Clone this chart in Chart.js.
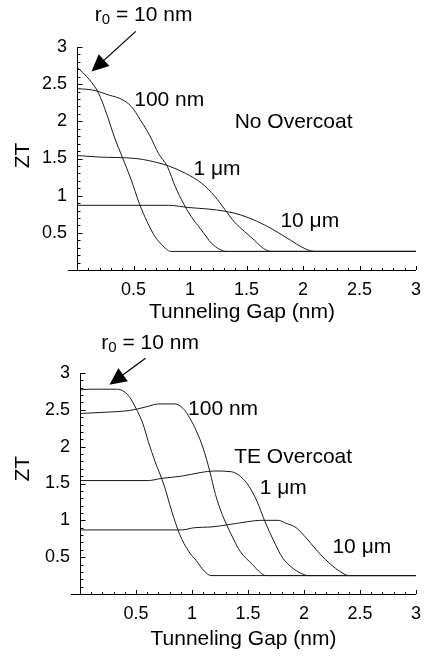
<!DOCTYPE html>
<html>
<head>
<meta charset="utf-8">
<script src="https://cdn.jsdelivr.net/npm/chart.js@4"></script>
<style>
  html, body { margin: 0; padding: 0; background: #fff; }
  #wrap { position: relative; width: 430px; height: 658px; }
  canvas { position: absolute; left: 0; }
  #topChart { top: 0; }
  #bottomChart { top: 325px; }
</style>
</head>
<body>
<div id="wrap">
  <canvas id="topChart" width="430" height="325"></canvas>
  <canvas id="bottomChart" width="430" height="333"></canvas>
</div>
<script>
// tick labels
const gapTicks = [0.5, 1, 1.5, 2, 2.5, 3]
const ztTicks = [0.5, 1, 1.5, 2, 2.5, 3]

// No overcoat (top panel)
const noR10Gap = [0, 0.11, 0.19, 0.26, 0.33, 0.40, 0.48, 0.55, 0.62, 0.69, 0.75, 0.83, 3]
const noR10ZT = [2.73, 2.56, 2.38, 2.11, 1.79, 1.52, 1.21, 0.90, 0.65, 0.45, 0.34, 0.25, 0.25]
const no100Gap = [0, 0.14, 0.29, 0.39, 0.48, 0.56, 0.65, 0.72, 0.80, 0.87, 0.94, 1.01, 1.10, 1.19, 1.26, 1.32, 3]
const no100ZT = [2.44, 2.42, 2.35, 2.30, 2.20, 2.02, 1.79, 1.57, 1.39, 1.12, 0.90, 0.72, 0.54, 0.36, 0.28, 0.25, 0.25]
const no1umGap = [0, 0.19, 0.52, 0.64, 0.81, 0.96, 1.10, 1.22, 1.31, 1.39, 1.48, 1.57, 1.65, 1.72, 3]
const no1umZT = [1.54, 1.52, 1.50, 1.47, 1.40, 1.30, 1.17, 0.99, 0.81, 0.65, 0.52, 0.40, 0.29, 0.25, 0.25]
const no10umGap = [0, 0.81, 0.99, 1.16, 1.31, 1.45, 1.60, 1.74, 1.89, 2.00, 2.10, 3]
const no10umZT = [0.87, 0.87, 0.84, 0.82, 0.79, 0.74, 0.65, 0.54, 0.40, 0.30, 0.25, 0.25]

// TE overcoat (bottom panel)
const teR10Gap = [0, 0.09, 0.32, 0.38, 0.44, 0.50, 0.56, 0.61, 0.67, 0.75, 0.82, 0.89, 0.97, 1.04, 1.11, 1.17, 3]
const teR10ZT = [2.77, 2.78, 2.78, 2.76, 2.68, 2.52, 2.32, 2.07, 1.80, 1.48, 1.12, 0.81, 0.58, 0.45, 0.31, 0.25, 0.25]
const te100Gap = [0, 0.26, 0.44, 0.59, 0.70, 0.85, 0.92, 0.98, 1.04, 1.10, 1.16, 1.21, 1.27, 1.35, 1.43, 1.54, 1.61, 1.66, 3]
const te100ZT = [2.45, 2.47, 2.49, 2.54, 2.58, 2.58, 2.52, 2.39, 2.21, 1.98, 1.66, 1.35, 1.08, 0.81, 0.58, 0.40, 0.29, 0.25, 0.25]
const te1umGap = [0, 0.61, 0.73, 0.91, 1.08, 1.20, 1.35, 1.43, 1.51, 1.58, 1.65, 1.73, 1.81, 1.90, 1.99, 2.03, 3]
const te1umZT = [1.54, 1.54, 1.57, 1.60, 1.65, 1.67, 1.66, 1.60, 1.46, 1.26, 0.99, 0.72, 0.49, 0.35, 0.27, 0.25, 0.25]
const te10umGap = [0, 0.91, 1.02, 1.17, 1.32, 1.49, 1.61, 1.77, 1.84, 1.93, 2.02, 2.11, 2.19, 2.28, 2.36, 2.40, 3]
const te10umZT = [0.87, 0.87, 0.90, 0.91, 0.94, 0.98, 1.00, 1.00, 0.96, 0.90, 0.76, 0.60, 0.47, 0.35, 0.27, 0.25, 0.25]

const FONT = "'Liberation Sans', Arial, sans-serif"

function pairs(xs, ys) {
  return xs.map((x, i) => ({ x: x, y: ys[i] }))
}

function curve(xs, ys) {
  return {
    data: pairs(xs, ys),
    borderColor: '#1a1a1a',
    borderWidth: 1,
    pointRadius: 0,
    fill: false,
    cubicInterpolationMode: 'monotone'
  }
}

// inside ticks, y axis at gap = 0, notes and arrow
const decorations = {
  id: 'decorations',
  afterDraw(chart, args, opts) {
    const ctx = chart.ctx
    const xs = chart.scales.x
    const ys = chart.scales.y
    const x0 = Math.round(xs.getPixelForValue(0)) + 0.5
    ctx.save()
    ctx.strokeStyle = '#000'
    ctx.lineWidth = 1
    ctx.beginPath()
    ctx.moveTo(x0, ys.getPixelForValue(3))
    ctx.lineTo(x0, ys.getPixelForValue(0))
    for (let i = 1; i <= 30; i++) {
      const len = i % 5 === 0 ? 5 : 3
      const py = Math.round(ys.getPixelForValue(i / 10)) + 0.5
      ctx.moveTo(x0, py)
      ctx.lineTo(x0 + len, py)
      const px = Math.round(xs.getPixelForValue(i / 10)) + 0.5
      const by = ys.getPixelForValue(0)
      ctx.moveTo(px, by)
      ctx.lineTo(px, by - (i % 5 === 0 ? 4 : 2))
    }
    ctx.stroke()

    ctx.fillStyle = '#000'
    ctx.textBaseline = 'middle'
    ctx.textAlign = 'left'
    ctx.font = '21px ' + FONT
    for (const n of opts.notes) {
      ctx.fillText(n.text, xs.getPixelForValue(n.x), ys.getPixelForValue(n.y))
    }

    // r0 = 10 nm with subscript
    let rx = xs.getPixelForValue(opts.r0.x)
    const ry = ys.getPixelForValue(opts.r0.y)
    ctx.fillText('r', rx, ry)
    rx += ctx.measureText('r').width
    ctx.font = '15px ' + FONT
    ctx.fillText('0', rx, ry + 5)
    rx += ctx.measureText('0').width
    ctx.font = '21px ' + FONT
    ctx.fillText(' = 10 nm', rx, ry)

    // arrow
    const ax1 = xs.getPixelForValue(opts.arrow[0])
    const ay1 = ys.getPixelForValue(opts.arrow[1])
    const ax2 = xs.getPixelForValue(opts.arrow[2])
    const ay2 = ys.getPixelForValue(opts.arrow[3])
    const ang = Math.atan2(ay2 - ay1, ax2 - ax1)
    const hl = 17
    const hw = 8
    const bx = ax2 - hl * Math.cos(ang)
    const bY = ay2 - hl * Math.sin(ang)
    ctx.lineWidth = 1.3
    ctx.beginPath()
    ctx.moveTo(ax1, ay1)
    ctx.lineTo(bx, bY)
    ctx.stroke()
    ctx.beginPath()
    ctx.moveTo(ax2, ay2)
    ctx.lineTo(bx + hw * Math.sin(ang), bY - hw * Math.cos(ang))
    ctx.lineTo(bx - hw * Math.sin(ang), bY + hw * Math.cos(ang))
    ctx.closePath()
    ctx.fill()

    // ZT axis title
    ctx.font = '21px ' + FONT
    ctx.textAlign = 'center'
    ctx.translate(23.5, ys.getPixelForValue(opts.ztY))
    ctx.rotate(-Math.PI / 2)
    ctx.fillText('ZT', 0, 0)
    ctx.restore()
  }
}

function makeChart(id, datasets, box, deco) {
  return new Chart(document.getElementById(id), {
    type: 'line',
    data: { datasets: datasets },
    plugins: [decorations],
    options: {
      responsive: false,
      animation: false,
      events: [],
      layout: { padding: { left: 0, top: box.top, right: box.right, bottom: 0 } },
      plugins: {
        legend: { display: false },
        tooltip: { enabled: false },
        decorations: deco
      },
      scales: {
        x: {
          type: 'linear',
          min: -0.08,
          max: 3,
          afterBuildTicks: (s) => { s.ticks = gapTicks.map(v => ({ value: v })) },
          afterFit: (s) => { s.height = box.xHeight },
          grid: { display: false, drawTicks: false },
          border: { display: true, color: '#000', width: 1 },
          ticks: {
            padding: 9,
            color: '#000',
            font: { family: FONT, size: 18 },
            maxRotation: 0,
            callback: (v) => String(v)
          },
          title: {
            display: true,
            text: 'Tunneling Gap (nm)',
            color: '#000',
            font: { family: FONT, size: 21 },
            padding: { top: 0, bottom: box.titlePad }
          }
        },
        y: {
          min: 0,
          max: 3,
          afterBuildTicks: (s) => { s.ticks = ztTicks.map(v => ({ value: v })) },
          afterFit: (s) => { s.width = box.left },
          grid: { display: false, drawTicks: false },
          border: { display: false },
          ticks: {
            padding: 1,
            color: '#000',
            font: { family: FONT, size: 18 },
            callback: (v) => String(v)
          }
        }
      }
    }
  })
}

makeChart('topChart', [
  curve(noR10Gap, noR10ZT),
  curve(no100Gap, no100ZT),
  curve(no1umGap, no1umZT),
  curve(no10umGap, no10umZT)
], { left: 68, top: 47, right: 9, xHeight: 55, titlePad: 0 }, {
  notes: [
    { text: '100 nm', x: 0.506, y: 2.29 },
    { text: 'No Overcoat', x: 1.395, y: 1.99 },
    { text: '1 \u03bcm', x: 1.03, y: 1.35 },
    { text: '10 \u03bcm', x: 1.80, y: 0.65 }
  ],
  r0: { x: 0.157, y: 3.43 },
  arrow: [0.52, 3.21, 0.128, 2.67],
  ztY: 1.54
})

makeChart('bottomChart', [
  curve(teR10Gap, teR10ZT),
  curve(te100Gap, te100ZT),
  curve(te1umGap, te1umZT),
  curve(te10umGap, te10umZT)
], { left: 71, top: 48, right: 8, xHeight: 64, titlePad: 6 }, {
  notes: [
    { text: '100 nm', x: 0.965, y: 2.51 },
    { text: 'TE Overcoat', x: 1.377, y: 1.86 },
    { text: '1 \u03bcm', x: 1.605, y: 1.44 },
    { text: '10 \u03bcm', x: 2.254, y: 0.64 }
  ],
  r0: { x: 0.19, y: 3.41 },
  arrow: [0.585, 3.20, 0.263, 2.84],
  ztY: 1.70
})
</script>
</body>
</html>
